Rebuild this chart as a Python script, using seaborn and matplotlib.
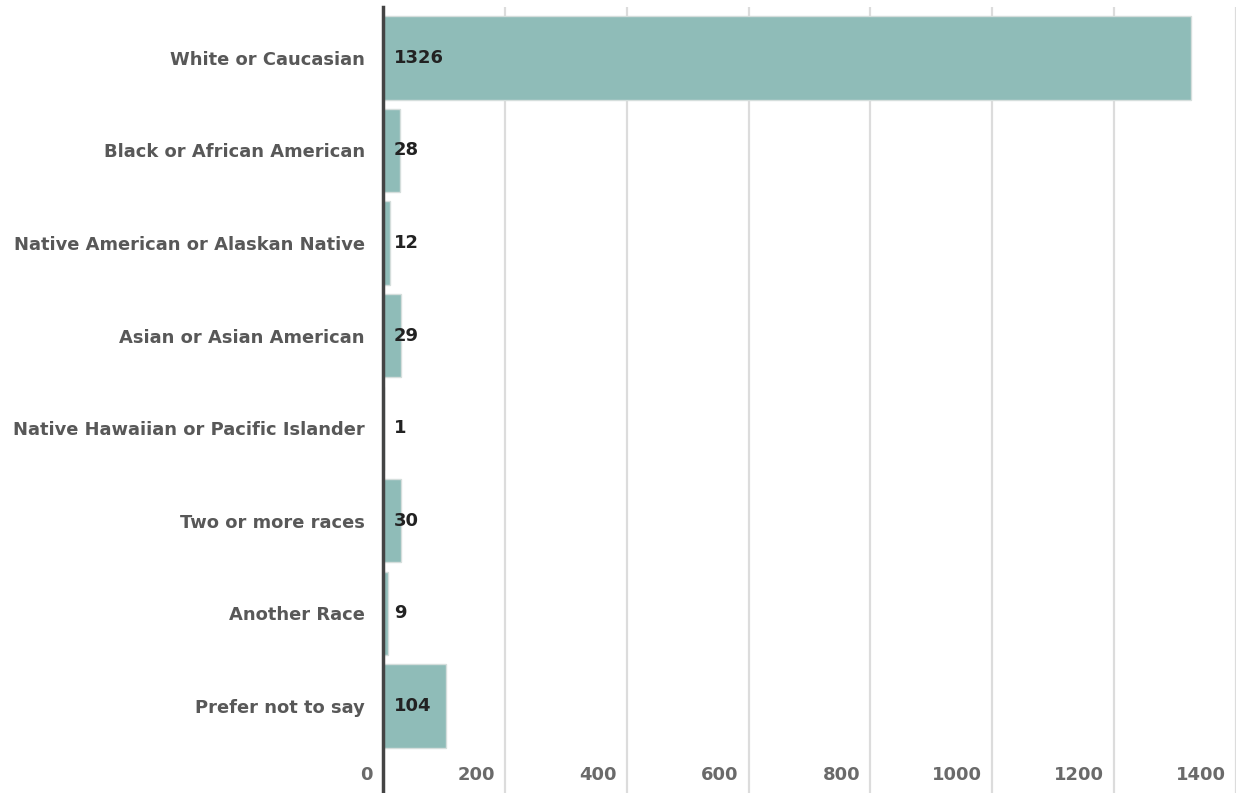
import matplotlib
matplotlib.use("Agg")
import matplotlib.pyplot as plt
import matplotlib.transforms as mtransforms
import seaborn as sns
import pandas as pd

categories = ["White or Caucasian", "Black or African American",
              "Native American or Alaskan Native", "Asian or Asian American",
              "Native Hawaiian or Pacific Islander", "Two or more races",
              "Another Race", "Prefer not to say"]
values = [1326, 28, 12, 29, 1, 30, 9, 104]
xticks = [0, 200, 400, 600, 800, 1000, 1200, 1400]

sns.set_theme(style="white")
plt.rcParams['font.family'] = ['DejaVu Sans']

df = pd.DataFrame({"category": categories, "value": values})

fig = plt.figure(figsize=(12.36, 7.93), dpi=100)
ax = fig.add_axes([383 / 1236, 0.0, 1 - 383 / 1236, 1 - 7 / 793])

sns.barplot(data=df, x="value", y="category", orient="h", color="#8fbcb8",
            saturation=1, width=0.9, edgecolor="#d5dedc", linewidth=1, ax=ax, zorder=2)

ax.set_xlim(0, 1400)
ax.set_ylim(len(categories) - 1 + 0.94, -0.55)
ax.set_xlabel("")
ax.set_ylabel("")

# gridlines
ax.set_xticks(xticks)
ax.grid(axis="x", color="#dcdcdc", linewidth=1.6, zorder=0)
ax.set_axisbelow(True)
ax.tick_params(axis="x", bottom=False, labelbottom=False)
ax.tick_params(axis="y", left=False, length=0, pad=13, labelsize=12.9, labelcolor="#585858")
for lab in ax.get_yticklabels():
    lab.set_fontweight("bold")

for s in ["top", "right", "bottom"]:
    ax.spines[s].set_visible(False)
ax.spines["left"].set_color("#444444")
ax.spines["left"].set_linewidth(2.5)
ax.spines["left"].set_zorder(5)

# x tick labels drawn inside the axes, right-aligned left of each gridline
blend = mtransforms.blended_transform_factory(ax.transData, ax.transAxes)
tick_tr = mtransforms.offset_copy(blend, fig=fig, x=-10, y=0, units="dots")
for t in xticks:
    ax.text(t, 0.023, str(t), transform=tick_tr, ha="right", va="center",
            fontsize=13, fontweight="bold", color="#6a6a6a", zorder=6)

# value labels
val_tr = mtransforms.offset_copy(ax.transData, fig=fig, x=11, y=0, units="dots")
for i, v in enumerate(values):
    ax.text(0, i, str(v), transform=val_tr, ha="left", va="center",
            fontsize=13, fontweight="bold", color="#222222", zorder=6)

fig.savefig("out.png", dpi=100)
